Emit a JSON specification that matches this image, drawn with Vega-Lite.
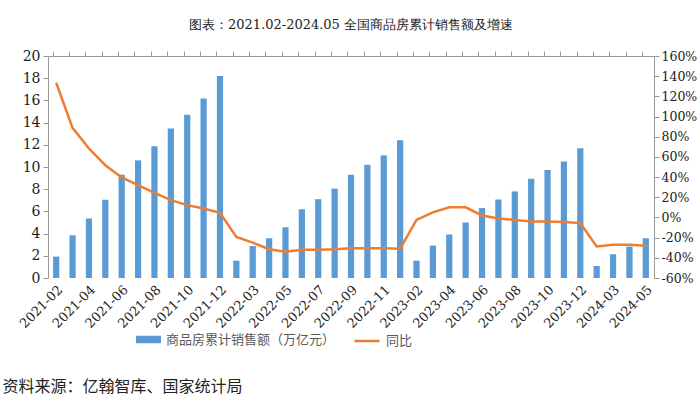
{
  "$schema": "https://vega.github.io/schema/vega-lite/v6.json",
  "background": "white",
  "padding": {"left": 2, "top": 19, "right": 2, "bottom": 4},
  "config": {"view": {"stroke": null}, "font": "DejaVu Serif"},
  "title": {"text": "资料来源：亿翰智库、国家统计局", "orient": "bottom", "anchor": "start", "frame": "bounds", "font": "Noto Sans CJK SC", "fontSize": 16, "fontWeight": "normal", "color": "#222222", "offset": 31, "dx": -15},
  "vconcat": [
    {
      "width": 606,
      "height": 222,
      "title": {"text": "图表：2021.02-2024.05 全国商品房累计销售额及增速", "font": "DejaVu Serif", "fontSize": 13, "fontWeight": "normal", "anchor": "middle", "offset": 17, "color": "#222222"},
      "data": {
        "values": [
          {"month": "2021-02", "sales": 1.93, "yoy": 133.5},
          {"month": "2021-03", "sales": 3.85, "yoy": 88.8},
          {"month": "2021-04", "sales": 5.36, "yoy": 68.3},
          {"month": "2021-05", "sales": 7.05, "yoy": 51.8},
          {"month": "2021-06", "sales": 9.3, "yoy": 39.6},
          {"month": "2021-07", "sales": 10.6, "yoy": 32.0},
          {"month": "2021-08", "sales": 11.86, "yoy": 24.4},
          {"month": "2021-09", "sales": 13.46, "yoy": 17.2},
          {"month": "2021-10", "sales": 14.7, "yoy": 12.2},
          {"month": "2021-11", "sales": 16.17, "yoy": 8.9},
          {"month": "2021-12", "sales": 18.2, "yoy": 4.5},
          {"month": "2022-02", "sales": 1.56, "yoy": -19.4},
          {"month": "2022-03", "sales": 2.88, "yoy": -25.0},
          {"month": "2022-04", "sales": 3.58, "yoy": -31.5},
          {"month": "2022-05", "sales": 4.57, "yoy": -34.0},
          {"month": "2022-06", "sales": 6.2, "yoy": -32.0},
          {"month": "2022-07", "sales": 7.1, "yoy": -32.0},
          {"month": "2022-08", "sales": 8.05, "yoy": -31.6},
          {"month": "2022-09", "sales": 9.3, "yoy": -30.5},
          {"month": "2022-10", "sales": 10.2, "yoy": -30.5},
          {"month": "2022-11", "sales": 11.05, "yoy": -30.6},
          {"month": "2022-12", "sales": 12.4, "yoy": -31.0},
          {"month": "2023-02", "sales": 1.56, "yoy": -2.5},
          {"month": "2023-03", "sales": 2.92, "yoy": 5.0},
          {"month": "2023-04", "sales": 3.92, "yoy": 10.0},
          {"month": "2023-05", "sales": 5.0, "yoy": 10.0},
          {"month": "2023-06", "sales": 6.3, "yoy": 2.0},
          {"month": "2023-07", "sales": 7.07, "yoy": -1.0},
          {"month": "2023-08", "sales": 7.8, "yoy": -2.5},
          {"month": "2023-09", "sales": 8.94, "yoy": -4.0},
          {"month": "2023-10", "sales": 9.73, "yoy": -4.0},
          {"month": "2023-11", "sales": 10.5, "yoy": -4.5},
          {"month": "2023-12", "sales": 11.7, "yoy": -5.6},
          {"month": "2024-02", "sales": 1.08, "yoy": -28.8},
          {"month": "2024-03", "sales": 2.14, "yoy": -27.0},
          {"month": "2024-04", "sales": 2.83, "yoy": -27.0},
          {"month": "2024-05", "sales": 3.58, "yoy": -28.0}
        ]
      },
      "layer": [
        {
          "mark": {"type": "bar"},
          "encoding": {
            "x": {
              "field": "month", "type": "ordinal", "sort": null,
              "scale": {"paddingInner": 0.62, "paddingOuter": 0.31},
              "axis": {
                "title": null, "ticks": false, "domain": false, "grid": false,
                "values": ["2021-02", "2021-04", "2021-06", "2021-08", "2021-10", "2021-12", "2022-03", "2022-05", "2022-07", "2022-09", "2022-11", "2023-02", "2023-04", "2023-06", "2023-08", "2023-10", "2023-12", "2024-03", "2024-05"],
                "labelAngle": -45, "labelFont": "DejaVu Serif", "labelFontSize": 13, "labelColor": "#222222",
                "labelPadding": 5, "labelOverlap": false, "labelBound": false
              }
            },
            "y": {
              "field": "sales", "type": "quantitative",
              "scale": {"domain": [0, 20], "nice": false},
              "axis": {
                "title": null, "orient": "left", "grid": false,
                "values": [0, 2, 4, 6, 8, 10, 12, 14, 16, 18, 20],
                "tickSize": 5, "tickColor": "#999999", "domainColor": "#999999",
                "labelFont": "DejaVu Serif", "labelFontSize": 14, "labelColor": "#222222", "labelPadding": 3
              }
            },
            "fill": {
              "datum": "商品房累计销售额（万亿元）",
              "scale": {"range": ["#5B9BD5"]},
              "legend": {
                "title": null, "orient": "none", "legendX": 88, "legendY": 271,
                "symbolType": "M-1,-0.3h2v0.6h-2z", "symbolSize": 625, "symbolStrokeWidth": 0,
                "labelFont": "Noto Sans CJK SC", "labelFontSize": 13, "labelColor": "#595959", "labelOffset": 5, "labelLimit": 400
              }
            }
          }
        },
        {
          "mark": {"type": "line", "strokeWidth": 2.5},
          "encoding": {
            "x": {
              "field": "month", "type": "ordinal", "sort": null,
              "scale": {"paddingInner": 0.62, "paddingOuter": 0.31},
              "axis": {
                "title": null, "labels": false, "ticks": true, "grid": false, "bandPosition": 0,
                "tickSize": 5, "tickColor": "#999999", "domainColor": "#999999"
              }
            },
            "y": {
              "field": "yoy", "type": "quantitative",
              "scale": {"domain": [-60, 160], "nice": false},
              "axis": {
                "title": null, "orient": "right", "grid": false,
                "values": [-60, -40, -20, 0, 20, 40, 60, 80, 100, 120, 140, 160],
                "labelExpr": "datum.value + '%'",
                "tickSize": 5, "tickColor": "#999999", "domainColor": "#999999",
                "labelFont": "DejaVu Serif", "labelFontSize": 12.5, "labelColor": "#222222", "labelPadding": 2
              }
            },
            "stroke": {
              "datum": "同比",
              "scale": {"range": ["#ED7D31"]},
              "legend": {
                "title": null, "orient": "none", "legendX": 305, "legendY": 271,
                "symbolType": "stroke", "symbolSize": 625, "symbolStrokeWidth": 2.5,
                "labelFont": "Noto Sans CJK SC", "labelFontSize": 13, "labelColor": "#595959", "labelOffset": 5, "labelLimit": 400
              }
            }
          }
        }
      ],
      "resolve": {"scale": {"y": "independent"}, "axis": {"x": "independent", "y": "independent"}}
    }
  ]
}
